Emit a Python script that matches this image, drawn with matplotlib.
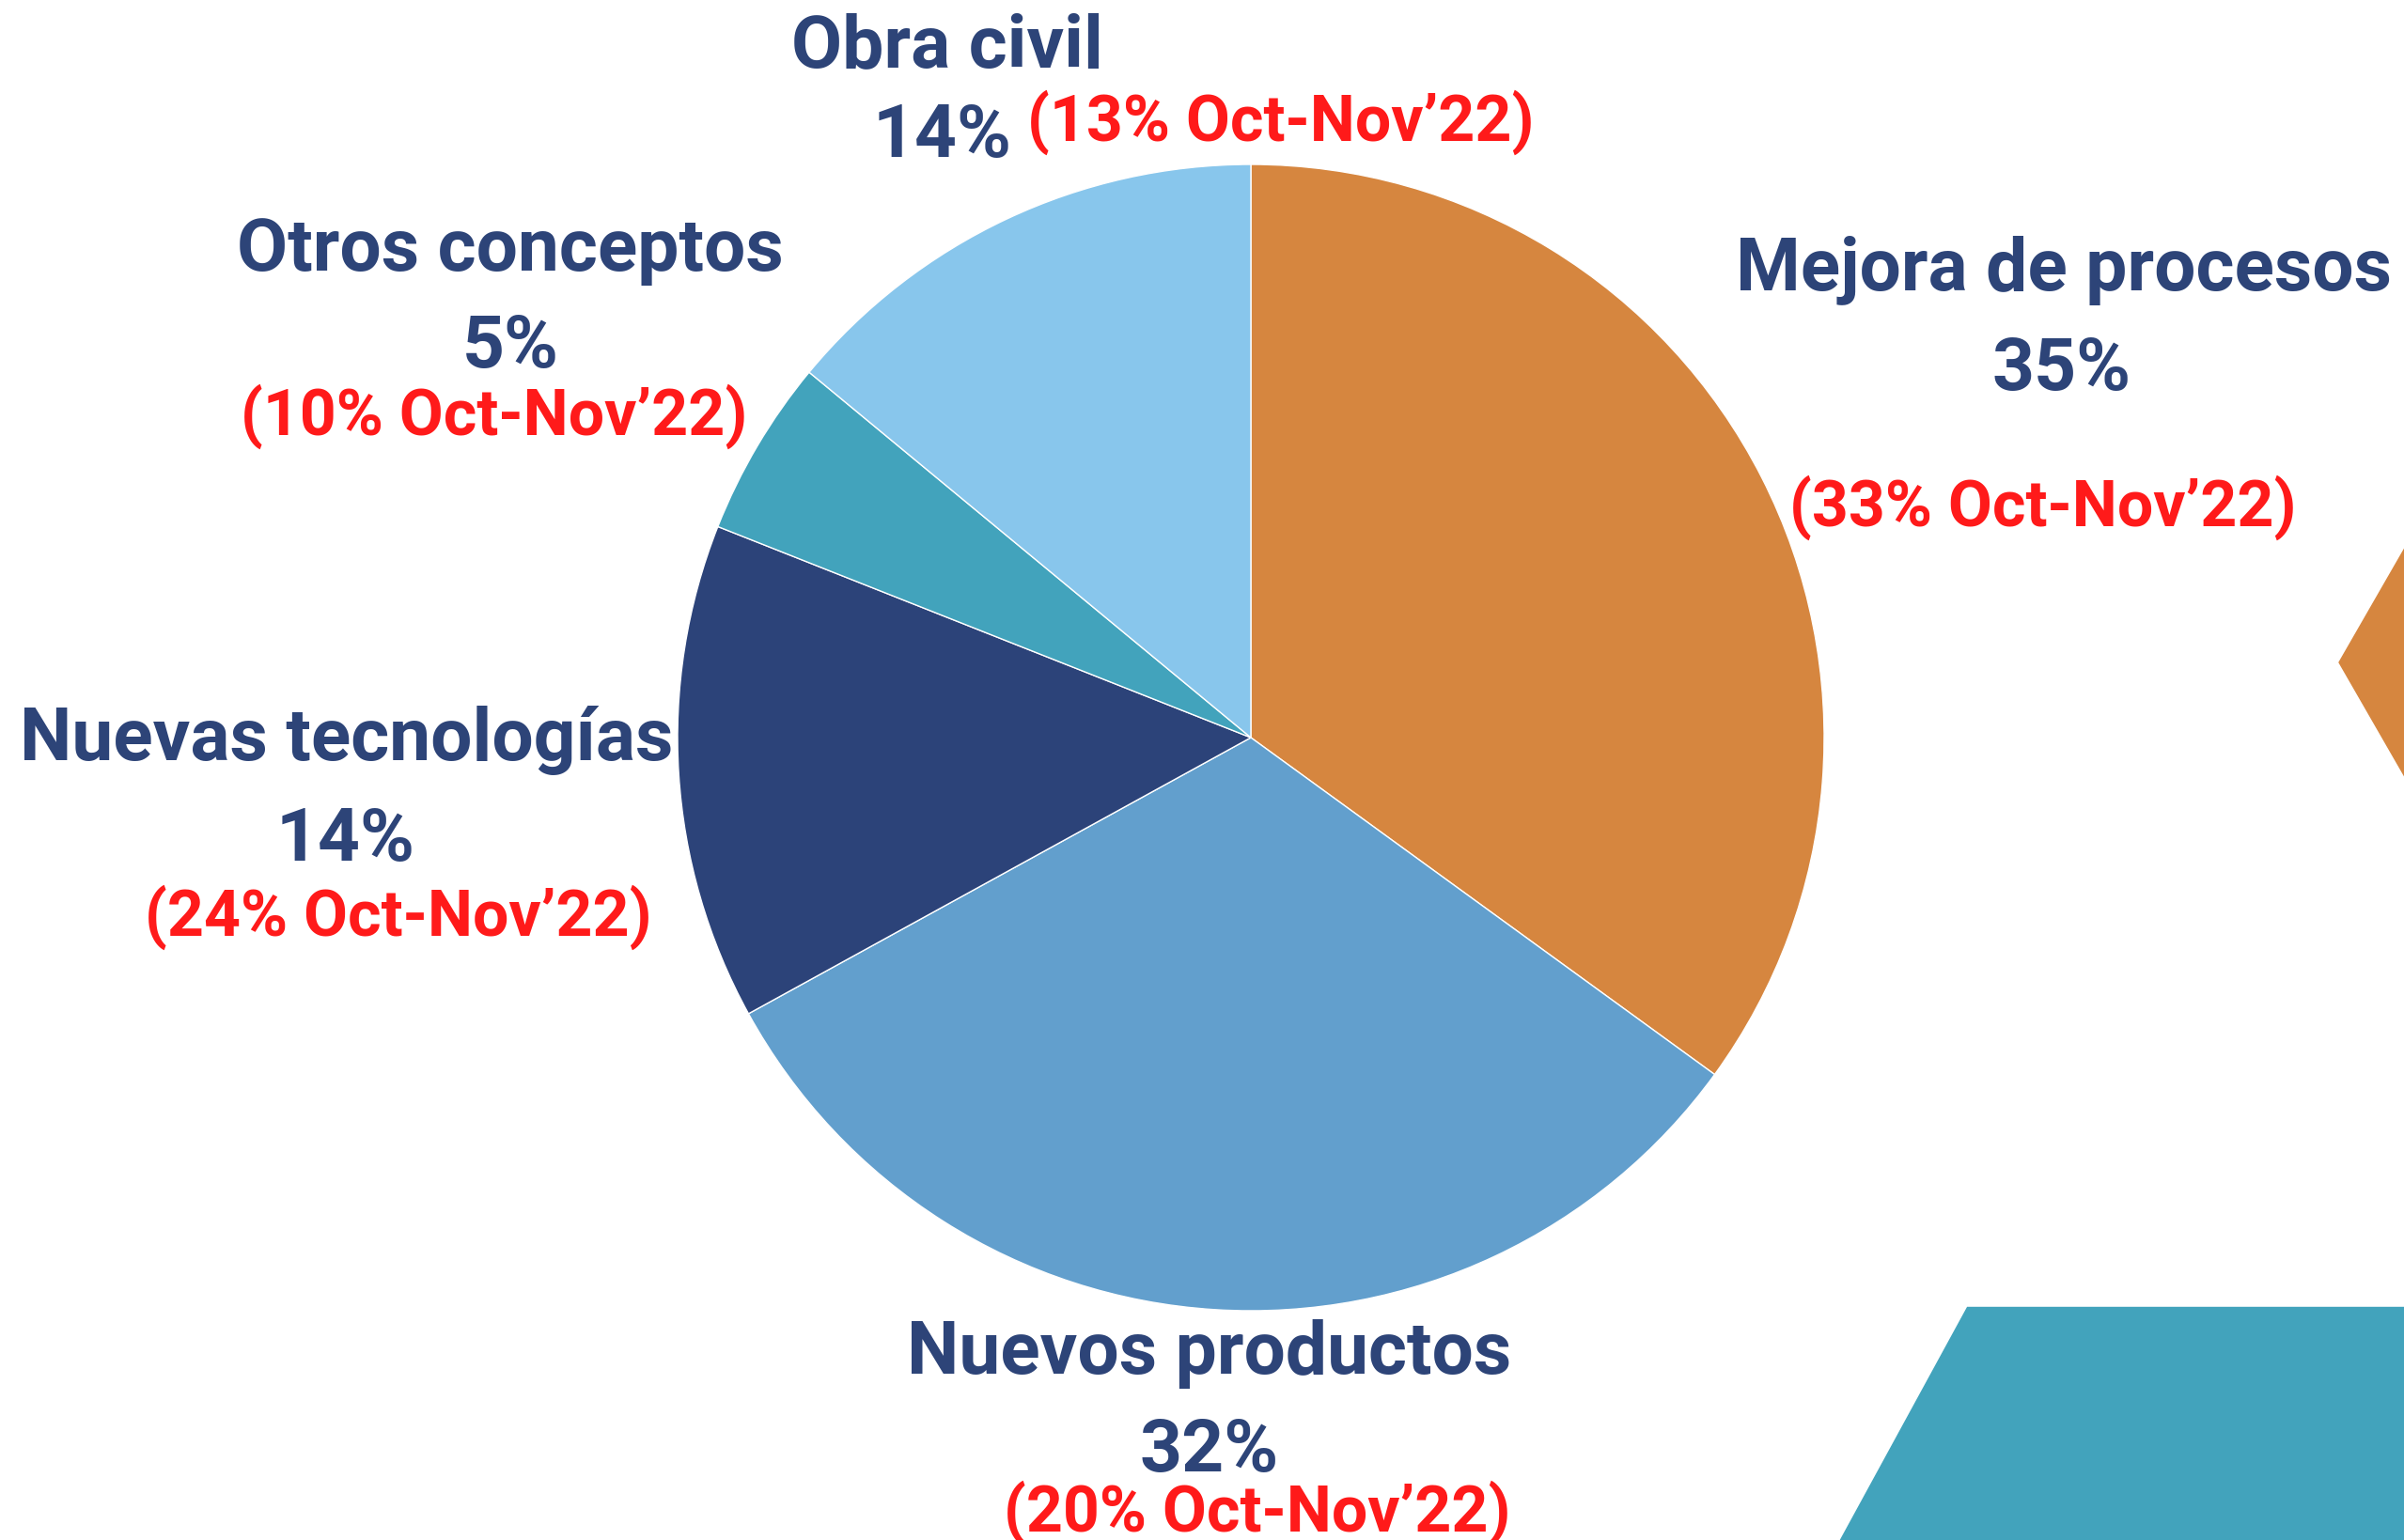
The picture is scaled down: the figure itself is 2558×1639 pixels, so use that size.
import matplotlib.pyplot as plt
from matplotlib.patches import Polygon

W, H = 2558, 1640

categories = ['Mejora de procesos', 'Nuevos productos', 'Nuevas tecnologías',
              'Otros conceptos', 'Obra civil']
shares = [35, 32, 14, 5, 14]
prev_shares = [33, 20, 24, 10, 13]
period = "Oct-Nov\u201922"

colors = ['#D6863F', '#629FCD', '#2C4379', '#42A3BC', '#88C6EC']
navy = '#2D4478'
red = '#FF1A1A'

plt.rcParams['font.family'] = ['Roboto', 'DejaVu Sans']

fig = plt.figure(figsize=(W / 100, H / 100), dpi=100)
fig.patch.set_facecolor('white')

# decorative shapes (pixel coords, top-left origin)
def px(pts):
    return [(x / W, 1 - y / H) for x, y in pts]

fig.patches.append(Polygon(px([(2489, 706), (2600, 513), (2700, 513), (2700, 900), (2600, 899)]),
                           closed=True, transform=fig.transFigure, color='#D6863F', zorder=0))
fig.patches.append(Polygon(px([(2093, 1392), (2700, 1392), (2700, 1700), (1925, 1700)]),
                           closed=True, transform=fig.transFigure, color='#42A3BC', zorder=0))

# pie
cx, cy, r = 1331, 786, 610
ax = fig.add_axes([(cx - r) / W, 1 - (cy + r) / H, 2 * r / W, 2 * r / H])
ax.pie(shares, colors=colors, startangle=90, counterclock=False, radius=1,
       wedgeprops=dict(edgecolor='white', linewidth=1.0))
ax.set_xlim(-1, 1)
ax.set_ylim(-1, 1)
ax.set_aspect('equal')
ax.axis('off')

big = 56.5
small = 49

def txt(x, y, s, color, size, ha='center'):
    fig.text(x / W, 1 - y / H, s, color=color, fontsize=size, fontweight='bold',
             ha=ha, va='baseline')

# label positions in pixels: (name x, name y, pct x, pct y, prev x, prev y)
pos = {
    'Mejora de procesos': (2196, 309, 2194, 415, 2174, 560),
    'Nuevos productos': (1287, 1462, 1287, 1566, 1338, 1630),
    'Nuevas tecnologías': (369, 809, 368, 916, 424, 996),
    'Otros conceptos': (543, 288, 543, 391, 526, 463),
}

for name, val, prev in zip(categories, shares, prev_shares):
    if name == 'Obra civil':
        txt(1008, 71, name, navy, big)
        txt(1077, 167, f"{val}%", navy, big, ha='right')
        txt(1093, 150, f"({prev}% {period})", red, small, ha='left')
        continue
    nx, ny, vx, vy, qx, qy = pos[name]
    txt(nx, ny, name, navy, big)
    txt(vx, vy, f"{val}%", navy, big)
    txt(qx, qy, f"({prev}% {period})", red, small)

fig.savefig('out.png', dpi=100, facecolor='white')
